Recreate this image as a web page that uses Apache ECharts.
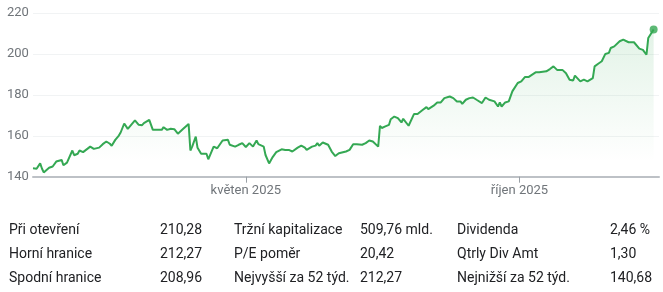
<!DOCTYPE html>
<html>
<head>
<meta charset="utf-8">
<script src="https://cdn.jsdelivr.net/npm/echarts@6/dist/echarts.min.js"></script>
<style>
html,body{margin:0;padding:0;background:#fff;}
#c{width:663px;height:292px;}
</style>
</head>
<body>
<div id="c"></div>
<script>
// Day of year 2025 (Jan 1 = 0) and closing price
const dayOfYear = [1,3,4,5,6,7,8,10,12,14,15,17,18,20,21,23,24,26,27,29,30,33,35,36,38,40,41,42,44,45,47,49,50,52,54,55,58,60,62,63,66,68,70,73,74,76,78,80,82,83,85,86,88,89,90,92,93,95,96,98,99,102,104,105,107,108,110,111,114,116,118,120,122,124,126,127,130,131,133,135,137,140,142,144,146,149,151,153,154,157,159,160,161,163,164,166,168,170,172,173,176,178,180,182,183,185,187,189,191,192,194,195,196,198,200,201,203,205,207,208,209,211,214,216,217,219,221,222,225,227,229,231,234,236,238,240,241,243,245,247,249,252,254,256,259,261,262,263,265,267,269,272,274,276,278,282,284,288,290,292,294,295,297,299,301,303,304,305,307,309,311,312,314,315,317,319,321,323,324,326,329,331,332,334,337,338,340,342,344,345,348];
const price = [144.1,143.9,143.7,146.5,144.0,142.1,142.0,144.4,145.0,147.4,147.0,148.2,145.6,146.9,147.0,152.8,150.5,151.2,152.8,152.0,152.3,154.7,153.6,153.1,154.2,155.9,155.2,157.2,156.1,155.1,158.0,160.1,161.6,166.0,163.4,164.2,167.5,165.4,165.2,166.2,167.8,162.9,162.9,162.9,164.2,162.9,163.4,163.2,161.0,161.6,163.4,164.2,165.8,152.8,154.7,159.6,154.1,151.2,150.4,151.2,148.5,154.7,153.9,154.7,157.7,157.2,158.0,155.6,154.7,155.6,156.4,154.5,156.4,154.7,157.7,155.9,154.7,150.6,146.5,149.6,152.0,153.4,153.1,153.1,152.3,154.2,155.2,154.2,153.1,154.7,155.2,156.4,155.1,156.7,157.2,155.6,152.3,150.1,151.5,152.3,152.3,153.1,155.9,155.9,156.4,155.6,156.4,157.7,157.2,156.7,154.7,164.9,163.8,164.6,165.3,168.1,169.4,168.6,166.5,168.3,167.5,164.9,170.6,170.6,171.1,172.7,174.0,173.0,174.7,176.3,176.3,178.4,179.2,178.4,176.8,176.8,175.6,177.6,178.4,178.7,177.6,176.0,178.7,177.6,176.8,174.3,176.3,174.3,176.3,176.8,181.7,185.8,186.6,188.7,188.7,191.0,191.0,191.5,192.6,193.9,192.2,193.0,192.2,190.6,187.4,187.0,189.4,188.7,186.6,187.4,186.6,187.4,188.2,193.9,195.2,196.4,200.0,200.5,202.9,203.7,206.2,207.0,207.6,205.7,205.7,205.3,202.6,202.0,199.6,207.8,211.9];
const tickDays = [120, 273];
const tickLabels = ['květen 2025', 'říjen 2025'];
const yTicks = [140, 160, 180, 200, 220];

const statLabels1 = ['Při otevření', 'Horní hranice', 'Spodní hranice'];
const statValues1 = ['210,28', '212,27', '208,96'];
const statLabels2 = ['Tržní kapitalizace', 'P/E poměr', 'Nejvyšší za 52 týd.'];
const statValues2 = ['509,76 mld.', '20,42', '212,27'];
const statLabels3 = ['Dividenda', 'Qtrly Div Amt', 'Nejnižší za 52 týd.'];
const statValues3 = ['2,46 %', '1,30', '140,68'];

const GREEN = '#34a853';
const FONT = 'Roboto, "Noto Sans", sans-serif';

const lineData = dayOfYear.map((d, i) => [d, price[i]]);
const lastPoint = [dayOfYear[dayOfYear.length - 1], price[price.length - 1]];

const rowY = [230.5, 254.5, 278.5];
const cols = [
  {lx: 9, vx: 160, labels: statLabels1, values: statValues1},
  {lx: 234, vx: 360, labels: statLabels2, values: statValues2},
  {lx: 457, vx: 610, labels: statLabels3, values: statValues3}
];
const graphics = [];
cols.forEach(c => {
  c.labels.forEach((t, i) => {
    graphics.push({type: 'text', x: c.lx, y: rowY[i], style: {text: t, fill: '#202124', font: '14px ' + FONT, textVerticalAlign: 'middle', textAlign: 'left'}});
    graphics.push({type: 'text', x: c.vx, y: rowY[i], style: {text: c.values[i], fill: '#202124', font: '14px ' + FONT, textVerticalAlign: 'middle', textAlign: 'left'}});
  });
});

const chart = echarts.init(document.getElementById('c'), null, {renderer: 'canvas'});
chart.setOption({
  animation: false,
  backgroundColor: '#fff',
  grid: {left: 33, right: 4, top: 13, bottom: 115.3},
  xAxis: {
    type: 'value',
    min: 1,
    max: 351,
    splitLine: {show: false},
    axisLine: {show: true, onZero: false, lineStyle: {color: '#bdc1c6', width: 2}},
    axisTick: {show: true, length: 6, customValues: tickDays, lineStyle: {color: '#9aa0a6', width: 1}},
    axisLabel: {
      customValues: tickDays,
      margin: 8,
      color: '#70757a',
      fontSize: 13,
      fontFamily: FONT,
      formatter: v => { const k = tickDays.indexOf(Math.round(v)); return k >= 0 ? tickLabels[k] : ''; }
    }
  },
  yAxis: {
    type: 'value',
    min: yTicks[0],
    max: yTicks[yTicks.length - 1],
    interval: 20,
    axisLine: {show: false},
    axisTick: {show: false},
    splitLine: {show: true, lineStyle: {color: '#f1f3f4', width: 1}},
    axisLabel: {align: 'left', margin: 26, color: '#70757a', fontSize: 13, fontFamily: FONT,
      formatter: v => (v === yTicks[0] ? '' + v : '' + v)}
  },
  series: [
    {
      type: 'line',
      data: lineData,
      showSymbol: false,
      smooth: false,
      lineStyle: {color: GREEN, width: 2},
      itemStyle: {color: GREEN},
      areaStyle: {
        origin: 'start',
        color: new echarts.graphic.LinearGradient(0, 0, 0, 1, [
          {offset: 0, color: 'rgba(52,168,83,0.2)'},
          {offset: 0.9, color: 'rgba(52,168,83,0)'}
        ])
      },
      z: 2
    },
    {
      type: 'scatter',
      data: [lastPoint],
      symbol: 'circle',
      symbolSize: 8,
      itemStyle: {color: GREEN},
      z: 3
    }
  ],
  graphic: graphics
});
</script>
</body>
</html>
